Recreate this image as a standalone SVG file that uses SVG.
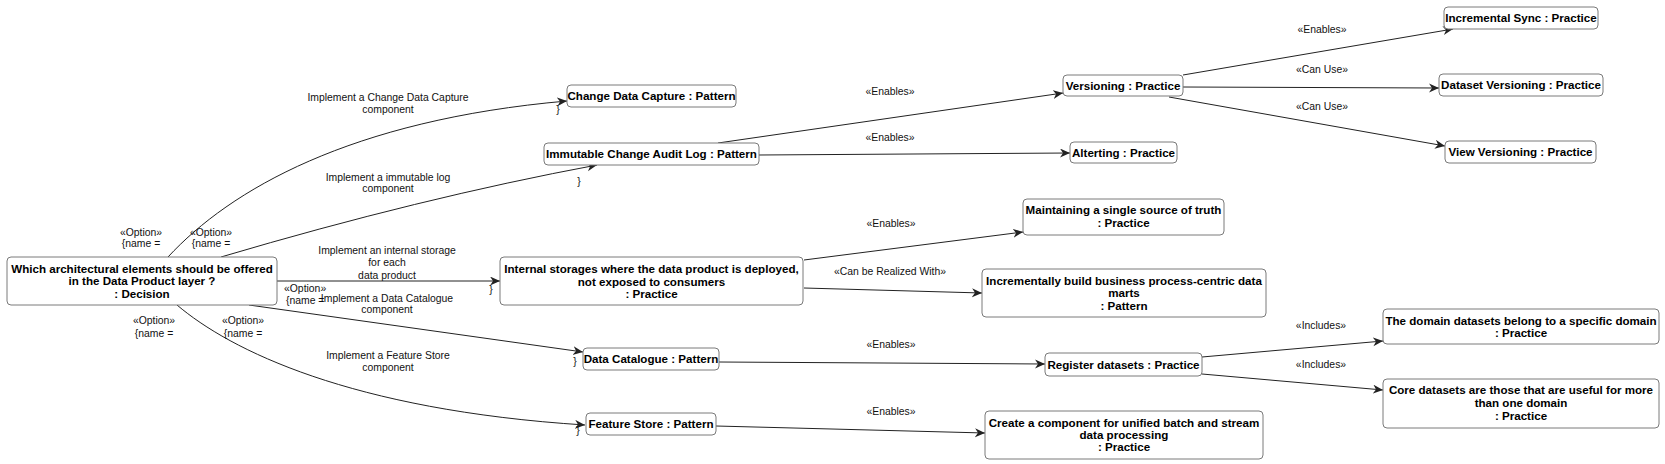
<svg xmlns="http://www.w3.org/2000/svg" width="1665" height="464" viewBox="0 0 1665 464">
<style>
.box{fill:#fff;stroke:#7a7a7a;stroke-width:1}
.nt{font-family:"Liberation Sans",Arial,sans-serif;font-size:11.6px;font-weight:bold;fill:#000;text-anchor:middle}
.el{font-family:"Liberation Sans",Arial,sans-serif;font-size:10.4px;fill:#111;text-anchor:middle}
.ol{font-family:"Liberation Sans",Arial,sans-serif;font-size:10.4px;fill:#111;text-anchor:start}
.e{fill:none;stroke:#222;stroke-width:1;marker-end:url(#arr)}
</style>
<defs>
<marker id="arr" markerUnits="userSpaceOnUse" markerWidth="11" markerHeight="10" refX="10" refY="4.5" orient="auto">
<path d="M0,0 L10,4.5 L0,9 L3,4.5 Z" fill="#222"/>
</marker>
</defs>

<g id="connectors">
<path class="e" d="M168,257 C230,190 350,120 567,101"/>
<path class="e" d="M221,257 Q420,198 597,165"/>
<path class="e" d="M277,281 L500,281"/>
<path class="e" d="M249,305 L583,352"/>
<path class="e" d="M177,305 C230,350 350,410 585,425"/>
<path class="e" d="M718,143 L1063,93"/>
<path class="e" d="M759,155 L1070,153"/>
<path class="e" d="M804,260 L1023,232"/>
<path class="e" d="M804,288 L982,293"/>
<path class="e" d="M719,362 L1045,364"/>
<path class="e" d="M716,426 L985,433"/>
<path class="e" d="M1183,75 L1453,29"/>
<path class="e" d="M1183,87 L1439,88"/>
<path class="e" d="M1169,97 L1445,146"/>
<path class="e" d="M1202,357 L1383,341"/>
<path class="e" d="M1202,374 L1383,390"/>

<text class="el" x="388" y="101">Implement a Change Data Capture</text>
<text class="el" x="388" y="113">component</text>
<text class="el" x="388" y="181">Implement a immutable log</text>
<text class="el" x="388" y="192">component</text>
<text class="el" x="387" y="254">Implement an internal storage</text>
<text class="el" x="387" y="266">for each</text>
<text class="el" x="387" y="279">data product</text>
<text class="el" x="387" y="302">Implement a Data Catalogue</text>
<text class="el" x="387" y="313">component</text>
<text class="el" x="388" y="359">Implement a Feature Store</text>
<text class="el" x="388" y="371">component</text>

<text class="el" x="141" y="236">«Option»</text>
<text class="el" x="141" y="247">{name =</text>
<text class="el" x="211" y="236">«Option»</text>
<text class="el" x="211" y="247">{name =</text>
<text class="ol" x="284" y="292">«Option»</text>
<text class="ol" x="286" y="304">{name =</text>
<text class="el" x="154" y="324">«Option»</text>
<text class="el" x="154" y="337">{name =</text>
<text class="el" x="243" y="324">«Option»</text>
<text class="el" x="243" y="337">{name =</text>

<text class="el" x="558" y="113">}</text>
<text class="el" x="579" y="185">}</text>
<text class="el" x="491" y="293">}</text>
<text class="el" x="575" y="365">}</text>
<text class="el" x="578" y="434">}</text>

<text class="el" x="890" y="95">«Enables»</text>
<text class="el" x="890" y="141">«Enables»</text>
<text class="el" x="891" y="227">«Enables»</text>
<text class="el" x="890" y="275">«Can be Realized With»</text>
<text class="el" x="891" y="348">«Enables»</text>
<text class="el" x="891" y="415">«Enables»</text>
<text class="el" x="1322" y="33">«Enables»</text>
<text class="el" x="1322" y="73">«Can Use»</text>
<text class="el" x="1322" y="110">«Can Use»</text>
<text class="el" x="1321" y="329">«Includes»</text>
<text class="el" x="1321" y="368">«Includes»</text>
</g>

<g id="n-decision">
<rect class="box" x="7" y="257" width="270" height="48" rx="4"/>
<text class="nt" x="142" y="273">Which architectural elements should be offered</text>
<text class="nt" x="142" y="285">in the Data Product layer ?</text>
<text class="nt" x="142" y="297.5">: Decision</text>
</g>
<g id="n-cdc">
<rect class="box" x="567" y="85" width="169" height="22" rx="4"/>
<text class="nt" x="651.5" y="100">Change Data Capture : Pattern</text>
</g>
<g id="n-immutable">
<rect class="box" x="544" y="143" width="215" height="22" rx="4"/>
<text class="nt" x="651.5" y="158">Immutable Change Audit Log : Pattern</text>
</g>
<g id="n-internal">
<rect class="box" x="500" y="257" width="303" height="48" rx="4"/>
<text class="nt" x="651.5" y="273">Internal storages where the data product is deployed,</text>
<text class="nt" x="651.5" y="285.5">not exposed to consumers</text>
<text class="nt" x="651.5" y="298">: Practice</text>
</g>
<g id="n-catalogue">
<rect class="box" x="583" y="348" width="136" height="22" rx="4"/>
<text class="nt" x="651" y="363">Data Catalogue : Pattern</text>
</g>
<g id="n-featurestore">
<rect class="box" x="586" y="413" width="130" height="22" rx="4"/>
<text class="nt" x="651" y="428">Feature Store : Pattern</text>
</g>
<g id="n-versioning">
<rect class="box" x="1063" y="75" width="120" height="21" rx="4"/>
<text class="nt" x="1123" y="90">Versioning : Practice</text>
</g>
<g id="n-alterting">
<rect class="box" x="1070" y="142" width="107" height="21" rx="4"/>
<text class="nt" x="1123.5" y="157">Alterting : Practice</text>
</g>
<g id="n-maintaining">
<rect class="box" x="1023" y="199" width="201" height="36" rx="4"/>
<text class="nt" x="1123.5" y="214">Maintaining a single source of truth</text>
<text class="nt" x="1123.5" y="227">: Practice</text>
</g>
<g id="n-incrementally">
<rect class="box" x="982" y="269" width="284" height="48" rx="4"/>
<text class="nt" x="1124" y="285">Incrementally build business process-centric data</text>
<text class="nt" x="1124" y="297">marts</text>
<text class="nt" x="1124" y="310">: Pattern</text>
</g>
<g id="n-register">
<rect class="box" x="1045" y="353" width="157" height="23" rx="4"/>
<text class="nt" x="1123.5" y="369">Register datasets : Practice</text>
</g>
<g id="n-create">
<rect class="box" x="985" y="411" width="278" height="48" rx="4"/>
<text class="nt" x="1124" y="427">Create a component for unified batch and stream</text>
<text class="nt" x="1124" y="439">data processing</text>
<text class="nt" x="1124" y="451">: Practice</text>
</g>
<g id="n-incsync">
<rect class="box" x="1444" y="7" width="154" height="22" rx="4"/>
<text class="nt" x="1521" y="22">Incremental Sync : Practice</text>
</g>
<g id="n-datasetversioning">
<rect class="box" x="1439" y="74" width="164" height="22" rx="4"/>
<text class="nt" x="1521" y="89">Dataset Versioning : Practice</text>
</g>
<g id="n-viewversioning">
<rect class="box" x="1445" y="141" width="151" height="22" rx="4"/>
<text class="nt" x="1520.5" y="156">View Versioning : Practice</text>
</g>
<g id="n-domain">
<rect class="box" x="1383" y="309" width="276" height="35" rx="4"/>
<text class="nt" x="1521" y="324.5">The domain datasets belong to a specific domain</text>
<text class="nt" x="1521" y="337">: Practice</text>
</g>
<g id="n-core">
<rect class="box" x="1383" y="379" width="276" height="49" rx="4"/>
<text class="nt" x="1521" y="394">Core datasets are those that are useful for more</text>
<text class="nt" x="1521" y="407">than one domain</text>
<text class="nt" x="1521" y="420">: Practice</text>
</g>
</svg>
